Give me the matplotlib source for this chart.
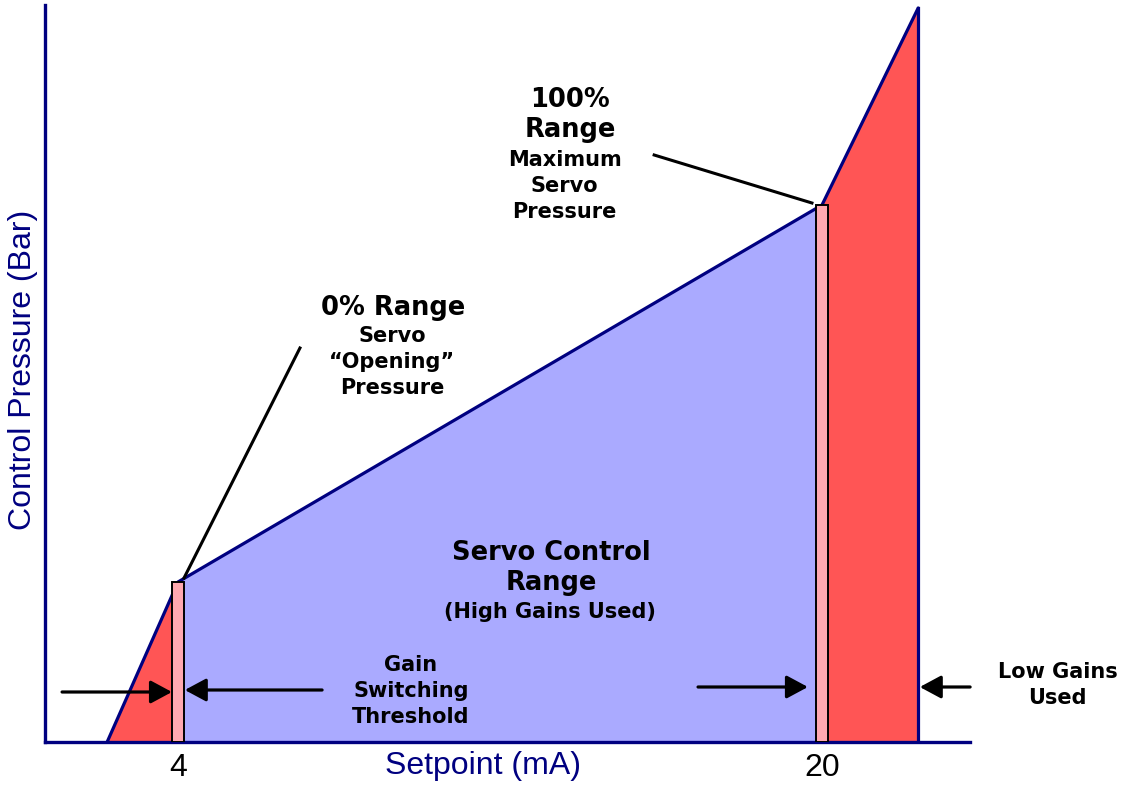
import numpy as np
import matplotlib
matplotlib.use("Agg")
import matplotlib.pyplot as plt

# --- data (setpoint in mA, control pressure in arbitrary bar units) ---
setpoint_pts = [2.24, 4.0, 20.0, 22.39]
pressure_pts = [0.0, 1.60, 5.37, 7.34]
threshold_sp = [4.0, 20.0]
threshold_p = [1.60, 5.37]
tick_vals = [4, 20]
tick_labels = ["4", "20"]

NAVY = "#000080"
BLUE = "#AAAAFF"
RED = "#FF5555"
PINK = "#FFA8B0"

fig = plt.figure(figsize=(11.26, 7.87), dpi=100)
ax = fig.add_axes([45 / 1126, 45 / 787, 925 / 1126, 737 / 787])
ax.set_xlim(0.696, 23.677)
ax.set_ylim(0, 7.37)

x = np.array(setpoint_pts)
y = np.array(pressure_pts)

# fills: low gains (red) / servo range (blue)
ax.fill_between(x[:2], 0, y[:2], color=RED, lw=0, zorder=1)
ax.fill_between(x[1:3], 0, y[1:3], color=BLUE, lw=0, zorder=1)
ax.fill_between(x[2:], 0, y[2:], color=RED, lw=0, zorder=1)
ax.plot(x, y, color=NAVY, lw=2.3, zorder=2, solid_capstyle="round")
ax.plot([x[-1], x[-1]], [0, y[-1]], color=NAVY, lw=2.3, zorder=2)

# gain switching threshold bars
ax.bar(threshold_sp, threshold_p, width=0.3, color=PINK, edgecolor="black",
       lw=1.4, zorder=3)

# spines
for s in ["top", "right"]:
    ax.spines[s].set_visible(False)
for s in ["left", "bottom"]:
    ax.spines[s].set_color(NAVY)
    ax.spines[s].set_linewidth(2.4)
ax.set_yticks([])
ax.set_xticks(tick_vals)
ax.set_xticklabels(tick_labels, fontsize=23, family="Liberation Sans")
ax.tick_params(axis="x", length=0, pad=8)

ax.set_xlabel("Setpoint (mA)", fontsize=23, color=NAVY, family="Liberation Sans")
ax.xaxis.set_label_coords(0.4735, -0.033)
ax.xaxis.label.set_va("center")
ax.set_ylabel("Control Pressure (Bar)", fontsize=23, color=NAVY,
              family="Liberation Sans")
ax.yaxis.set_label_coords(-0.024, 0.505)
ax.yaxis.label.set_va("center")

# leader lines
ax.plot([7.03, 4.15], [3.94, 1.64], color="black", lw=2.2, zorder=4)
ax.plot([15.83, 19.75], [5.87, 5.39], color="black", lw=2.2, zorder=4)

# arrows
arrow_kw = dict(arrowstyle="-|>,head_length=1.3,head_width=0.7",
                color="black", lw=2.3, shrinkA=0, shrinkB=0)
for (x0, x1, yy) in [(1.12, 3.85, 0.50), (7.58, 4.17, 0.52),
                     (16.92, 19.65, 0.55), (23.68, 22.43, 0.55)]:
    ax.annotate("", xy=(x1, yy), xytext=(x0, yy), arrowprops=arrow_kw,
                zorder=5, annotation_clip=False)

bold = dict(fontweight="bold", family="DejaVu Sans", ha="center", va="center",
            color="black", zorder=6)
ax.text(13.74, 6.27, "100%\nRange", fontsize=18.5, linespacing=1.2, **bold)
ax.text(13.61, 5.56, "Maximum\nServo\nPressure", fontsize=15,
        linespacing=1.4, **bold)
ax.text(9.34, 4.34, "0% Range", fontsize=18.5, **bold)
ax.text(9.32, 3.80, "Servo\n\u201cOpening\u201d\nPressure", fontsize=15,
        linespacing=1.4, **bold)
ax.text(13.27, 1.74, "Servo Control\nRange", fontsize=18.5, linespacing=1.25,
        **bold)
ax.text(13.24, 1.30, "(High Gains Used)", fontsize=15, **bold)
ax.text(9.79, 0.51, "Gain\nSwitching\nThreshold", fontsize=15,
        linespacing=1.4, **bold)
t = ax.text(25.86, 0.57, "Low Gains\nUsed", fontsize=15, linespacing=1.35,
            **bold)
t.set_clip_on(False)

fig.savefig("out.png", dpi=100)
